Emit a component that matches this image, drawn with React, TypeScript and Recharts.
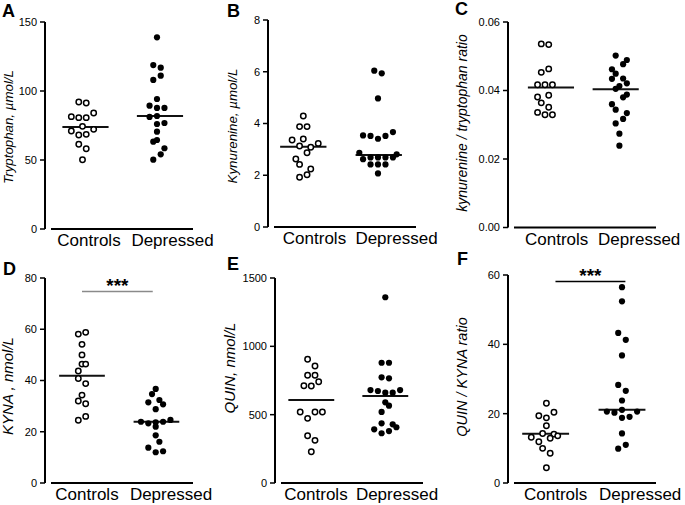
import React from 'react'
import { ScatterChart, Scatter, XAxis, YAxis, ReferenceLine } from 'recharts'

const CATEGORIES = ['Controls', 'Depressed']

// A: tryptophan, µmol/L
const TRP_CTRL = [92.0, 91.3, 81.4, 80.7, 80.7, 84.1, 74.4, 71.0, 72.2, 68.1, 68.6, 61.4, 58.2, 50.2]
const TRP_CTRL_JIT = [-0.05, 0.05, -0.15, -0.05, 0.05, 0.15, 0, -0.15, 0.15, -0.05, 0.05, -0.05, 0.05, 0]
const TRP_DEP = [138.9, 118.8, 116.9, 108.0, 111.1, 94.2, 89.4, 87.7, 87.7, 81.2, 81.9, 76.1, 76.8, 70.5, 63.3, 64.5, 58.5, 54.1, 50.2]
const TRP_DEP_JIT = [0, -0.05, 0.05, -0.05, 0.05, 0, -0.1, 0, 0.1, -0.1, 0, 0, 0.1, 0, -0.05, 0, 0.1, 0.05, -0.05]
const TRP_MED = [73.9, 81.9]
const TRP_TICKS = [0, 50, 100, 150]

// B: kynurenine, µmol/L
const KYN_CTRL = [4.29, 3.88, 3.88, 3.36, 3.4, 3.13, 3.08, 3.23, 2.87, 2.63, 2.42, 2.24, 2.02, 1.92]
const KYN_CTRL_JIT = [0, -0.05, 0.05, -0.15, 0, -0.05, 0.1, 0.2, 0.05, -0.1, -0.05, 0.1, 0.05, -0.05]
const KYN_DEP = [6.04, 5.94, 4.97, 3.54, 3.52, 3.41, 3.52, 3.67, 2.87, 2.81, 2.62, 2.69, 2.69, 2.69, 2.69, 2.42, 2.42, 2.42, 2.07]
const KYN_DEP_JIT = [-0.05, 0.05, 0, -0.2, -0.1, 0, 0.1, 0.2, -0.25, 0.25, -0.2, -0.1, 0, 0.1, 0.2, -0.1, 0, 0.1, 0]
const KYN_MED = [3.1, 2.78]
const KYN_TICKS = [0, 2, 4, 6, 8]

// C: kynurenine / tryptophan ratio
const RATIO_CTRL = [0.0536, 0.0534, 0.0453, 0.0463, 0.0417, 0.0417, 0.0417, 0.0381, 0.0386, 0.0364, 0.0351, 0.0336, 0.0329, 0.0329]
const RATIO_CTRL_JIT = [-0.05, 0.05, -0.05, 0.05, -0.1, 0, 0.1, -0.1, 0.05, -0.05, 0.05, -0.1, 0, 0.1]
const RATIO_DEP = [0.0502, 0.0489, 0.0477, 0.0462, 0.0449, 0.0434, 0.0435, 0.0421, 0.0413, 0.0405, 0.0388, 0.038, 0.036, 0.0344, 0.0334, 0.0317, 0.0304, 0.0274, 0.0239]
const RATIO_DEP_JIT = [-0.05, 0.1, 0.05, -0.1, -0.05, -0.1, 0.05, 0.1, 0, -0.05, 0.1, 0.05, -0.1, -0.05, 0.1, 0.05, -0.05, 0, 0]
const RATIO_MED = [0.0409, 0.0404]
const RATIO_TICKS = [0, 0.02, 0.04, 0.06]

// D: KYNA, nmol/L
const KYNA_CTRL = [58.1, 58.8, 54.1, 50.0, 46.4, 46.4, 43.7, 40.8, 38.8, 34.3, 32.0, 30.9, 24.5, 26.0]
const KYNA_CTRL_JIT = [-0.05, 0.05, 0, 0, 0, 0.05, -0.05, -0.05, 0.05, 0, -0.05, 0.05, -0.05, 0.05]
const KYNA_DEP = [36.7, 34.7, 31.5, 32.4, 30.7, 28.8, 23.9, 23.3, 23.7, 23.9, 24.6, 22.0, 18.6, 16.1, 13.8, 12.4, 12.0]
const KYNA_DEP_JIT = [0, -0.05, -0.1, 0.05, 0.1, 0, -0.2, -0.1, 0, 0.1, 0.2, 0, 0, 0.05, -0.1, 0.1, 0]
const KYNA_MED = [41.9, 23.9]
const KYNA_SIG = 74.7
const KYNA_TICKS = [0, 20, 40, 60, 80]

// E: QUIN, nmol/L
const QUIN_CTRL = [905, 856, 788, 788, 741, 712, 710, 520, 520, 520, 473, 346, 312, 229]
const QUIN_CTRL_JIT = [-0.05, 0.05, -0.05, 0.05, 0.1, -0.1, 0, -0.15, 0.05, 0.15, -0.05, -0.05, 0.05, 0]
const QUIN_DEP = [1359, 880, 880, 773, 766, 680, 673, 661, 661, 680, 590, 566, 520, 437, 429, 393, 408, 364, 380]
const QUIN_DEP_JIT = [0, -0.05, 0.05, -0.05, 0.05, -0.2, -0.1, 0, 0.1, 0.2, 0, 0.05, -0.05, -0.05, 0.1, -0.15, 0.15, -0.05, 0.05]
const QUIN_MED = [607, 637]
const QUIN_TICKS = [0, 500, 1000, 1500]

// F: QUIN / KYNA ratio
const QK_CTRL = [23.0, 19.4, 18.8, 20.4, 16.5, 14.3, 14.1, 13.2, 12.9, 13.6, 11.9, 10.0, 8.6, 4.4]
const QK_CTRL_JIT = [0, -0.1, 0, 0.1, 0, -0.05, 0.1, -0.2, 0.05, 0.15, -0.1, -0.05, 0.05, 0]
const QK_DEP = [56.5, 52.4, 43.3, 41.3, 36.8, 28.3, 26.6, 23.8, 20.6, 20.3, 21.1, 20.6, 18.8, 19.1, 14.3, 9.9, 11.0]
const QK_DEP_JIT = [0, 0, -0.05, 0.05, 0, -0.05, 0.05, 0, -0.2, -0.1, 0, 0.2, 0, 0.1, 0, -0.05, 0.05]
const QK_MED = [14.2, 21.1]
const QK_SIG = 58.1
const QK_TICKS = [0, 20, 40, 60]

const FONT = "'Liberation Sans', Arial, Helvetica, sans-serif"
const PLOT_W = 160

const OpenDot = (p: any) => (
  <circle cx={p.cx} cy={p.cy} r={2.7} fill="#fff" stroke="#000" strokeWidth={1.5} />
)
const FilledDot = (p: any) => <circle cx={p.cx} cy={p.cy} r={3.1} fill="#000" />

interface Geo {
  axisX: number
  topY: number
  bottomY: number
  ctrlX: number
  depX: number
  labelX: number[]
  medShift: number[]
}

interface PanelProps {
  ctrl: number[]
  ctrlJit: number[]
  dep: number[]
  depJit: number[]
  medians: number[]
  ticks: number[]
  fmt?: (v: number) => string
  sig?: { y: number; from: number; to: number; color: string }
  geo: Geo
}

function Panel({ ctrl, ctrlJit, dep, depJit, medians, ticks, fmt, sig, geo }: PanelProps) {
  const unit = geo.depX - geo.ctrlX
  const xMin = 1 - (geo.ctrlX - geo.axisX) / unit
  const xMax = xMin + PLOT_W / unit
  const toX = (px: number) => xMin + (px - geo.axisX) / unit
  const h = geo.bottomY - geo.topY + 45
  const ctrlData = ctrl.map((v, i) => ({ x: 1 + ctrlJit[i], y: v }))
  const depData = dep.map((v, i) => ({ x: 2 + depJit[i], y: v }))
  const half = 0.31

  return (
    <div style={{ position: 'absolute', left: geo.axisX - 45, top: geo.topY - 15, width: 225, height: h }}>
      <ScatterChart width={225} height={h} margin={{ top: 15, right: 20, bottom: 5, left: 5 }}>
        <XAxis
          type="number"
          dataKey="x"
          domain={[xMin, xMax]}
          ticks={[toX(geo.labelX[0]), toX(geo.labelX[1])]}
          tickFormatter={(_: number, i: number) => CATEGORIES[i]}
          interval={0}
          axisLine={false}
          tickLine={false}
          tickSize={3}
          tickMargin={2}
          height={25}
          allowDataOverflow
          tick={{ fontSize: 17, fill: '#000' }}
        />
        <YAxis
          type="number"
          dataKey="y"
          domain={[0, ticks[ticks.length - 1]]}
          ticks={ticks}
          interval={0}
          width={40}
          tickFormatter={fmt}
          axisLine={{ stroke: '#000', strokeWidth: 2 }}
          tickLine={{ stroke: '#000', strokeWidth: 1.5 }}
          tickSize={5}
          tickMargin={3}
          tick={{ fontSize: 11, fill: '#000' }}
        />
        <ReferenceLine
          segment={[{ x: toX(geo.axisX + 6), y: 0 }, { x: toX(geo.axisX + 148), y: 0 }]}
          stroke="#000"
          strokeWidth={2}
        />
        {medians.map((m, i) => (
          <ReferenceLine
            key={i}
            segment={[
              { x: i + 1 + geo.medShift[i] - half, y: m },
              { x: i + 1 + geo.medShift[i] + half, y: m },
            ]}
            stroke="#111"
            strokeWidth={2}
          />
        ))}
        {sig && (
          <ReferenceLine
            segment={[{ x: sig.from, y: sig.y }, { x: sig.to, y: sig.y }]}
            stroke={sig.color}
            strokeWidth={1.5}
            label={{ value: '***', position: 'top', fontSize: 19, fontWeight: 'bold', fill: '#000', offset: 0 }}
          />
        )}
        <Scatter data={ctrlData} shape={OpenDot} isAnimationActive={false} />
        <Scatter data={depData} shape={FilledDot} isAnimationActive={false} />
      </ScatterChart>
    </div>
  )
}

export default function App(): React.ReactElement {
  return (
    <div style={{ position: 'absolute', left: 0, top: 0, width: 685, height: 505, background: '#fff', fontFamily: FONT }}>
      <Panel
        ctrl={TRP_CTRL} ctrlJit={TRP_CTRL_JIT} dep={TRP_DEP} depJit={TRP_DEP_JIT}
        medians={TRP_MED} ticks={TRP_TICKS}
        geo={{ axisX: 45, topY: 22, bottomY: 229, ctrlX: 82.5, depX: 157, labelX: [89, 172.5], medShift: [0.04, 0.04] }}
      />
      <Panel
        ctrl={KYN_CTRL} ctrlJit={KYN_CTRL_JIT} dep={KYN_DEP} depJit={KYN_DEP_JIT}
        medians={KYN_MED} ticks={KYN_TICKS}
        geo={{ axisX: 268, topY: 20, bottomY: 227, ctrlX: 303.3, depX: 378, labelX: [314.5, 396.5], medShift: [0, 0.01] }}
      />
      <Panel
        ctrl={RATIO_CTRL} ctrlJit={RATIO_CTRL_JIT} dep={RATIO_DEP} depJit={RATIO_DEP_JIT}
        medians={RATIO_MED} ticks={RATIO_TICKS} fmt={(v) => v.toFixed(2)}
        geo={{ axisX: 508.3, topY: 22, bottomY: 227.5, ctrlX: 545.3, depX: 619.7, labelX: [557, 639.5], medShift: [0.08, -0.05] }}
      />
      <Panel
        ctrl={KYNA_CTRL} ctrlJit={KYNA_CTRL_JIT} dep={KYNA_DEP} depJit={KYNA_DEP_JIT}
        medians={KYNA_MED} ticks={KYNA_TICKS}
        sig={{ y: KYNA_SIG, from: 1.0, to: 1.96, color: '#8a8a8a' }}
        geo={{ axisX: 45, topY: 278, bottomY: 483, ctrlX: 82, depX: 155.7, labelX: [87, 171], medShift: [0, 0.01] }}
      />
      <Panel
        ctrl={QUIN_CTRL} ctrlJit={QUIN_CTRL_JIT} dep={QUIN_DEP} depJit={QUIN_DEP_JIT}
        medians={QUIN_MED} ticks={QUIN_TICKS}
        geo={{ axisX: 275, topY: 278, bottomY: 483, ctrlX: 311.3, depX: 385.3, labelX: [316, 397], medShift: [0, 0] }}
      />
      <Panel
        ctrl={QK_CTRL} ctrlJit={QK_CTRL_JIT} dep={QK_DEP} depJit={QK_DEP_JIT}
        medians={QK_MED} ticks={QK_TICKS}
        sig={{ y: QK_SIG, from: 1.12, to: 2.045, color: '#000' }}
        geo={{ axisX: 508.3, topY: 275, bottomY: 483, ctrlX: 546.7, depX: 622.3, labelX: [556, 640.5], medShift: [-0.01, 0] }}
      />
      <svg
        width={685}
        height={505}
        style={{ position: 'absolute', left: 0, top: 0, pointerEvents: 'none' }}
        fontFamily={FONT}
      >
        <g fontSize={18} fontWeight="bold" fill="#000">
          <text x={2} y={17}>A</text>
          <text x={227} y={17}>B</text>
          <text x={455} y={15}>C</text>
          <text x={3} y={275}>D</text>
          <text x={227} y={270}>E</text>
          <text x={457} y={265}>F</text>
        </g>
        <g fontStyle="italic" fill="#000" textAnchor="middle">
          <text transform="translate(13,127) rotate(-90)" fontSize={13.3}>Tryptophan, µmol/L</text>
          <text transform="translate(237,126) rotate(-90)" fontSize={13.3}>Kynurenine, µmol/L</text>
          <text transform="translate(467,123) rotate(-90)" fontSize={14}>kynurenine / tryptophan ratio</text>
          <text transform="translate(13,386) rotate(-90)" fontSize={15}>KYNA , nmol/L</text>
          <text transform="translate(235,368) rotate(-90)" fontSize={15}>QUIN, nmol/L</text>
          <text transform="translate(467,377) rotate(-90)" fontSize={14.5}>QUIN / KYNA ratio</text>
        </g>
      </svg>
    </div>
  )
}
